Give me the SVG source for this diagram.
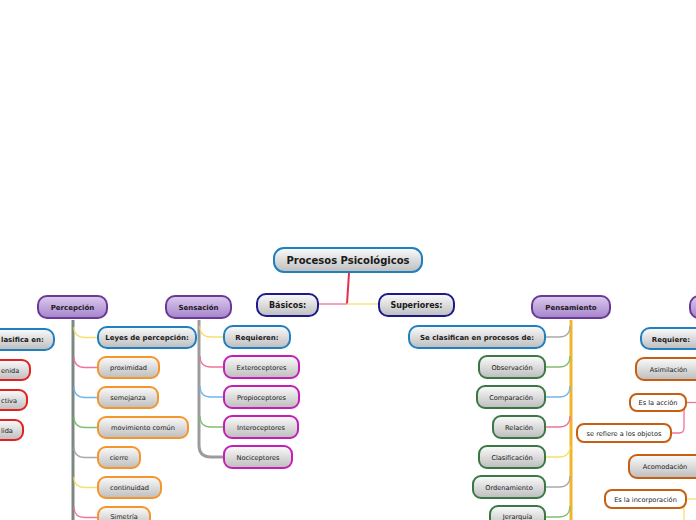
<svg xmlns="http://www.w3.org/2000/svg" width="696" height="520" viewBox="0 0 696 520">
<defs>
<linearGradient id="gg" x1="0" y1="0" x2="0" y2="1"><stop offset="0" stop-color="#fbfbfb"/><stop offset="1" stop-color="#bdbdbd"/></linearGradient>
<linearGradient id="gp" x1="0" y1="0" x2="0" y2="1"><stop offset="0" stop-color="#dccbee"/><stop offset="1" stop-color="#a583cc"/></linearGradient>
<style>
text{font-family:"DejaVu Sans",Verdana,sans-serif;fill:#1a1a1a;text-anchor:middle}
.b{font-weight:bold;font-size:7px}
.b8{font-weight:bold;font-size:8px}
.l{font-size:6.6px}
.r{font-weight:bold;font-size:10px}
rect{stroke-width:2}
.gr{fill:url(#gg)}
.pu{fill:url(#gp);stroke:#6b3a96}
.bl{stroke:#1f7fbf}
.nv{stroke:#1c1a8c}
.or{stroke:#f5962c}
.mg{stroke:#c51eb7}
.gn{stroke:#3b7745}
.rd{stroke:#e3211f}
.br{stroke:#c65f12}
.wh{fill:#fff}
.c{fill:none;stroke-width:1.3}
.y{stroke:#f6df6e}.p{stroke:#f0739c}.u{stroke:#6fb8ec}.g{stroke:#7cc06e}.a{stroke:#a9a9a9}
</style>
</defs>
<g id="connectors">
<path d="M349,273 L347,304" fill="none" stroke="#e2304c" stroke-width="2"/>
<path d="M347,304 L318,304" class="c p"/>
<path d="M347,304 L379,304" class="c y"/>
<path d="M73,320 L73,520" fill="none" stroke="#7c8983" stroke-width="3"/>
<path d="M74,327 Q74,337.5 85,337.5 L98,337.5" class="c y"/>
<path d="M74,357 Q74,367.5 85,367.5 L98,367.5" class="c p"/>
<path d="M74,387 Q74,397.5 85,397.5 L98,397.5" class="c u"/>
<path d="M74,417 Q74,427.5 85,427.5 L98,427.5" class="c g"/>
<path d="M74,447 Q74,457.5 85,457.5 L98,457.5" class="c a"/>
<path d="M74,477 Q74,487.5 85,487.5 L98,487.5" class="c y"/>
<path d="M74,507 Q74,517.5 85,517.5 L98,517.5" class="c p"/>
<path d="M199,320 L199,445 Q199,457 211,457 L224,457" fill="none" stroke="#9c9c9c" stroke-width="3"/>
<path d="M200,326 Q200,337 211,337 L224,337" class="c y"/>
<path d="M200,356 Q200,367 211,367 L224,367" class="c p"/>
<path d="M200,386 Q200,397 211,397 L224,397" class="c u"/>
<path d="M200,416 Q200,427 211,427 L224,427" class="c g"/>
<path d="M571,320 L571,520" fill="none" stroke="#f1b42c" stroke-width="3"/>
<path d="M545,337 L559,337 Q570,337 570,326" class="c a"/>
<path d="M545,367 L559,367 Q570,367 570,356" class="c g"/>
<path d="M545,397 L559,397 Q570,397 570,386" class="c u"/>
<path d="M545,427 L559,427 Q570,427 570,416" class="c p"/>
<path d="M545,457 L559,457 Q570,457 570,446" class="c y"/>
<path d="M545,487 L559,487 Q570,487 570,476" class="c a"/>
<path d="M545,517 L559,517 Q570,517 570,506" class="c g"/>
<path d="M686,402.5 L696,402.5" class="c p"/>
<path d="M671,433 L679,433 Q684,433 684,428 L684,402.5" class="c p"/>
<path d="M686,499 L696,499" class="c y"/>
<path d="M684,499 L684,520" class="c y"/>
</g>
<g id="n-root"><rect x="274" y="248" width="148" height="24" rx="10" class="gr bl"/><text x="348" y="263.5" class="r">Procesos Psicológicos</text></g>
<g id="n-basicos"><rect x="257" y="294" width="61" height="22" rx="9" class="gr nv"/><text x="287.5" y="307.8" class="b8">Básicos:</text></g>
<g id="n-superiores"><rect x="379" y="294" width="75" height="22" rx="9" class="gr nv"/><text x="416.5" y="307.8" class="b8">Superiores:</text></g>
<g id="n-percepcion"><rect x="38" y="296" width="69" height="22" rx="9" class="pu"/><text x="72.5" y="309.5" class="b">Percepción</text></g>
<g id="n-sensacion"><rect x="166" y="296" width="65" height="22" rx="9" class="pu"/><text x="198.5" y="309.5" class="b">Sensación</text></g>
<g id="n-pensamiento"><rect x="532" y="296" width="78" height="22" rx="9" class="pu"/><text x="571" y="309.5" class="b">Pensamiento</text></g>
<g id="n-purple-right"><rect x="690" y="296" width="60" height="22" rx="9" class="pu"/></g>
<g id="n-clasifica"><rect x="-60" y="329" width="114" height="21" rx="9" class="gr bl"/><text x="1" y="342" class="b" style="text-anchor:start">lasifica en:</text></g>
<g id="n-enida"><rect x="-40" y="360" width="70" height="20" rx="8" class="gr rd"/><text x="1" y="372.5" class="l" style="text-anchor:start">enida</text></g>
<g id="n-ctiva"><rect x="-40" y="390" width="67" height="20" rx="8" class="gr rd"/><text x="1" y="402.5" class="l" style="text-anchor:start">ctiva</text></g>
<g id="n-lida"><rect x="-40" y="420" width="63" height="20" rx="8" class="gr rd"/><text x="1" y="432.5" class="l" style="text-anchor:start">lida</text></g>
<g id="n-leyes"><rect x="98" y="327" width="98" height="21" rx="9" class="gr bl"/><text x="147" y="340" class="b">Leyes de percepción:</text></g>
<g id="n-proximidad"><rect x="98" y="357" width="61" height="21" rx="8" class="gr or"/><text x="128.5" y="370" class="l">proximidad</text></g>
<g id="n-semejanza"><rect x="98" y="387" width="60" height="21" rx="8" class="gr or"/><text x="128" y="400" class="l">semejanza</text></g>
<g id="n-movimiento"><rect x="98" y="417" width="90" height="21" rx="8" class="gr or"/><text x="143" y="430" class="l">movimiento común</text></g>
<g id="n-cierre"><rect x="98" y="447" width="42" height="21" rx="8" class="gr or"/><text x="119" y="460" class="l">cierre</text></g>
<g id="n-continuidad"><rect x="98" y="477" width="63" height="21" rx="8" class="gr or"/><text x="129.5" y="490" class="l">continuidad</text></g>
<g id="n-simetria"><rect x="98" y="507" width="52" height="21" rx="8" class="gr or"/><text x="124" y="519" class="l">Simetría</text></g>
<g id="n-requieren"><rect x="224" y="326" width="66" height="22" rx="9" class="gr bl"/><text x="257" y="339.5" class="b">Requieren:</text></g>
<g id="n-extero"><rect x="224" y="356" width="75" height="22" rx="8" class="gr mg"/><text x="261.5" y="369.5" class="l">Exteroceptores</text></g>
<g id="n-propio"><rect x="224" y="386" width="75" height="22" rx="8" class="gr mg"/><text x="261.5" y="399.5" class="l">Propioceptores</text></g>
<g id="n-intero"><rect x="224" y="416" width="74" height="22" rx="8" class="gr mg"/><text x="261" y="429.5" class="l">Interoceptores</text></g>
<g id="n-noci"><rect x="224" y="446" width="68" height="22" rx="8" class="gr mg"/><text x="258" y="459.5" class="l">Nociceptores</text></g>
<g id="n-seclasifican"><rect x="409" y="326" width="136" height="22" rx="9" class="gr bl"/><text x="477" y="339.5" class="b">Se clasifican en procesos de:</text></g>
<g id="n-observacion"><rect x="479" y="356" width="66" height="22" rx="8" class="gr gn"/><text x="512" y="369.5" class="l">Observación</text></g>
<g id="n-comparacion"><rect x="477" y="386" width="68" height="22" rx="8" class="gr gn"/><text x="511" y="399.5" class="l">Comparación</text></g>
<g id="n-relacion"><rect x="493" y="416" width="52" height="22" rx="8" class="gr gn"/><text x="519" y="429.5" class="l">Relación</text></g>
<g id="n-clasificacion"><rect x="479" y="446" width="66" height="22" rx="8" class="gr gn"/><text x="512" y="459.5" class="l">Clasificación</text></g>
<g id="n-ordenamiento"><rect x="473" y="476" width="72" height="22" rx="8" class="gr gn"/><text x="509" y="489.5" class="l">Ordenamiento</text></g>
<g id="n-jerarquia"><rect x="490" y="506" width="55" height="22" rx="8" class="gr gn"/><text x="517.5" y="519" class="l">Jerarquía</text></g>
<g id="n-requiere"><rect x="641" y="328" width="70" height="21" rx="9" class="gr bl"/><text x="671" y="341.5" class="b">Requiere:</text></g>
<g id="n-asimilacion"><rect x="636" y="358" width="74" height="22" rx="8" class="gr br"/><text x="668.5" y="371.5" class="l">Asimilación</text></g>
<g id="n-accion"><rect x="630" y="394" width="56" height="17" rx="7" class="wh br"/><text x="658" y="405" class="l">Es la acción</text></g>
<g id="n-objetos"><rect x="577" y="424" width="94" height="18" rx="7" class="wh br"/><text x="624" y="435.5" class="l">se refiere a los objetos</text></g>
<g id="n-acomodacion"><rect x="629" y="455" width="80" height="23" rx="8" class="gr br"/><text x="665" y="469" class="l">Acomodación</text></g>
<g id="n-incorporacion"><rect x="605" y="490" width="81" height="18" rx="7" class="wh br"/><text x="645.5" y="501.5" class="l">Es la incorporación</text></g>
</svg>
